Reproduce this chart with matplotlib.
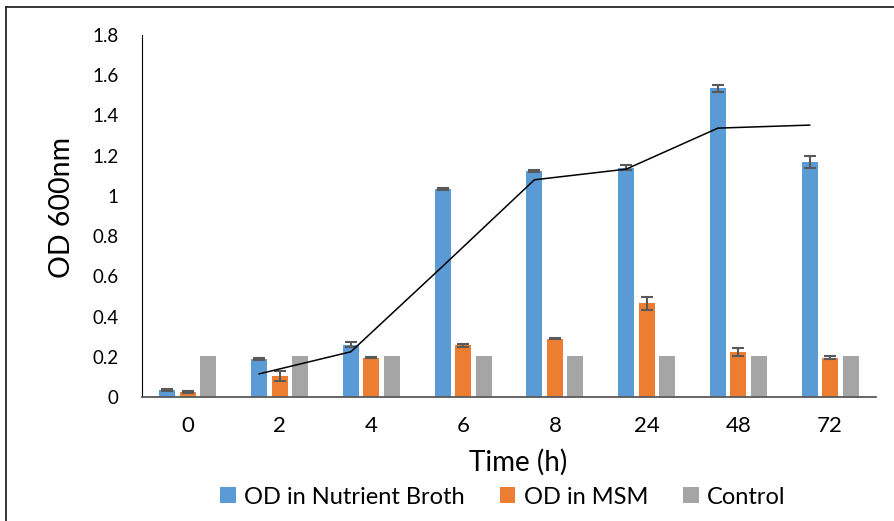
import matplotlib
matplotlib.use("Agg")
import matplotlib.pyplot as plt
from matplotlib.lines import Line2D
import numpy as np

plt.rcParams['font.family'] = ['Lato', 'DejaVu Sans']

categories = ["0", "2", "4", "6", "8", "24", "48", "72"]
od_nutrient = [0.035, 0.19, 0.26, 1.033, 1.125, 1.14, 1.535, 1.17]
od_nutrient_err = [0.005, 0.004, 0.012, 0.004, 0.004, 0.012, 0.017, 0.029]
od_msm = [0.024, 0.104, 0.195, 0.257, 0.289, 0.465, 0.224, 0.195]
od_msm_err = [0.004, 0.023, 0.003, 0.008, 0.003, 0.034, 0.021, 0.007]
control = [0.205, 0.205, 0.205, 0.205, 0.205, 0.205, 0.205, 0.205]
trend_values = [0.115, 0.225, 0.65, 1.08, 1.133, 1.337, 1.352]  # starts at 2nd category
yticks = [0, 0.2, 0.4, 0.6, 0.8, 1.0, 1.2, 1.4, 1.6, 1.8]
ytick_labels = ["0", "0.2", "0.4", "0.6", "0.8", "1", "1.2", "1.4", "1.6", "1.8"]

W, H = 894, 521
fig = plt.figure(figsize=(W / 100, H / 100), dpi=100)
ax = fig.add_axes([142 / W, 1 - 397 / H, 734 / W, 362 / H])

x = np.arange(len(categories))
bw = 0.175
off = 0.223
blue, orange, gray = "#5B9BD5", "#ED7D31", "#A5A5A5"
err_kw = dict(ecolor="#595959", elinewidth=1.5, capsize=4.3, capthick=1.5)

ax.bar(x - off, od_nutrient, bw, color=blue, yerr=od_nutrient_err, error_kw=err_kw,
       label="OD in Nutrient Broth", zorder=2)
ax.bar(x, od_msm, bw, color=orange, yerr=od_msm_err, error_kw=err_kw,
       label="OD in MSM", zorder=2)
ax.bar(x + off, control, bw, color=gray, label="Control", zorder=2)

ax.plot(x[1:] - off, trend_values, color="black", linewidth=1.1, zorder=3)

ax.set_xlim(-0.5, len(categories) - 0.5)
ax.set_ylim(0, 1.8)
ax.set_yticks(yticks)
ax.set_yticklabels(ytick_labels)
ax.set_xticks(x)
ax.set_xticklabels(categories)
ax.tick_params(axis='y', length=0, pad=17, labelsize=13.5, colors="black")
ax.tick_params(axis='x', length=0, pad=14, labelsize=16, colors="black")

for s in ["top", "right"]:
    ax.spines[s].set_visible(False)
ax.spines["left"].set_color("black")
ax.spines["left"].set_linewidth(0.8)
ax.spines["bottom"].set_color("#595959")
ax.spines["bottom"].set_linewidth(1.3)

fig.text(62 / W, 1 - 207 / H, "OD 600nm", rotation=90, ha="center", va="center",
         fontsize=20.5, color="black")
fig.text(518 / W, 1 - 462 / H, "Time (h)", ha="center", va="center",
         fontsize=20, color="black")

leg = fig.legend(loc="center", bbox_to_anchor=(503 / W, 1 - 497 / H), ncol=3,
                 frameon=False, fontsize=17, handlelength=0.65, handleheight=0.65,
                 handletextpad=0.35, columnspacing=1.5)

# outer frame
fig.add_artist(Line2D([5.5 / W, 5.5 / W], [0, 1 - 6.5 / H], color="#262626",
                      linewidth=1.3, transform=fig.transFigure))
fig.add_artist(Line2D([5.5 / W, 1], [1 - 6.5 / H, 1 - 6.5 / H], color="#262626",
                      linewidth=1.3, transform=fig.transFigure))

fig.savefig("out.png", dpi=100)
